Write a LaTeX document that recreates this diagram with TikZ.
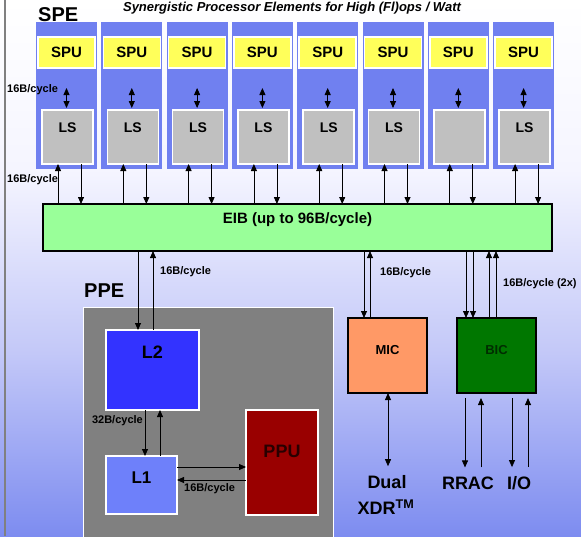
\documentclass[tikz,border=0pt]{standalone}
\usepackage{fontspec}
\setmainfont{Liberation Sans}
\usetikzlibrary{arrows.meta,calc}
\definecolor{speblue}{RGB}{112,128,240}
\definecolor{spuyellow}{RGB}{255,255,90}
\definecolor{lsgray}{RGB}{192,192,192}
\definecolor{eibgreen}{RGB}{153,255,153}
\definecolor{ppegray}{RGB}{128,128,128}
\definecolor{ltwotone}{RGB}{51,51,255}
\definecolor{lonetone}{RGB}{110,128,250}
\definecolor{ppured}{RGB}{153,0,0}
\definecolor{micorange}{RGB}{255,153,102}
\definecolor{bicgreen}{RGB}{0,119,0}
\definecolor{bgblue}{RGB}{125,140,240}
\definecolor{bgpale}{RGB}{245,245,255}
\definecolor{bgmid}{RGB}{195,200,248}
\definecolor{bicdark}{RGB}{0,45,0}
\definecolor{ppudark}{RGB}{40,0,0}
\newcommand{\fsz}[1]{\fontsize{#1}{#1}\selectfont}
\begin{document}
\begin{tikzpicture}[x=1pt,y=-1pt,font=\bfseries,
  arr/.style={-{Triangle[length=7pt,width=6pt]},line width=0.8pt},
  dbl/.style={{Triangle[length=7pt,width=6pt]}-{Triangle[length=7pt,width=6pt]},line width=0.8pt},
  blk/.style={inner sep=0pt,outer sep=0pt},
  whitebox/.style={blk,draw=white,line width=1.6pt},
  blackbox/.style={blk,draw=black,line width=2pt},
  rate/.style={font=\bfseries\fsz{11},inner sep=0pt},
  big/.style={font=\bfseries\fsz{20},inner sep=0pt},
  ext/.style={font=\bfseries\fsz{18},inner sep=0pt}
]
\useasboundingbox (0,0) rectangle (581,536);
% background
\shade[top color=white,bottom color=bgpale] (0,0) rectangle (581,170);
\shade[top color=bgpale,bottom color=bgblue,middle color=bgmid] (0,170) rectangle (581,536);
\draw[gray,line width=1.2pt] (5,0) -- (5,536);
% title
\node[font=\bfseries\itshape\fsz{13},anchor=base,inner sep=0pt] (title) at (292,11) {Synergistic Processor Elements for High (Fl)ops / Watt};
\node[big,anchor=west] (spelabel) at (38,15) {SPE};
% EIB
\node[blackbox,fill=eibgreen,minimum width=509pt,minimum height=47pt] (eib) at (297.5,227.5) {};
\node[font=\bfseries\fsz{15},inner sep=0pt] (eibtext) at (297.5,220) {EIB (up to 96B/cycle)};
% SPE columns
\foreach \i in {0,...,7}{
  \pgfmathsetmacro\L{36+65.3*\i}
  \node[blk,fill=speblue,minimum width=61pt,minimum height=147pt] (col\i) at (\L+30.5,95.5) {};
  \node[whitebox,fill=spuyellow,minimum width=57pt,minimum height=31pt,font=\bfseries\fsz{15}] (spu\i) at (\L+30.5,52.5) {SPU};
  \node[whitebox,fill=lsgray,minimum width=51pt,minimum height=54pt] (ls\i) at (\L+31.5,137) {};
  \draw[dbl] ([yshift=-20pt]spu\i.south) -- ([yshift=2pt]spu\i.south |- ls\i.north);
  \draw[arr] ([xshift=-9.5pt]ls\i.south |- eib.north) -- ([xshift=-9.5pt]ls\i.south);
  \draw[arr] ([xshift=13.5pt]ls\i.south) -- ([xshift=13.5pt]ls\i.south |- eib.north);
}
\foreach \i in {0,1,2,3,4,5,7}{
  \node[font=\bfseries\fsz{14},inner sep=0pt] (lstext\i) at ([yshift=-18pt]ls\i.north) {LS};
}
\node[rate,anchor=west] (rateA) at (7,90) {16B/cycle};
\node[rate,anchor=west] (rateB) at (7,180) {16B/cycle};
% PPE
\node[big,anchor=west] (ppelabel) at (84,291) {PPE};
\node[blk,fill=ppegray,draw=white,line width=1pt,minimum width=250pt,minimum height=240pt] (ppe) at (208,427) {};
\node[whitebox,fill=ltwotone,minimum width=93pt,minimum height=80pt] (l2) at (152.5,370) {};
\node[font=\bfseries\fsz{18},inner sep=0pt] (l2text) at ([yshift=-22pt]l2.north) {L2};
\node[whitebox,fill=lonetone,minimum width=71pt,minimum height=58pt] (l1) at (141.5,485) {};
\node[font=\bfseries\fsz{17},inner sep=0pt] (l1text) at ([yshift=-22pt]l1.north) {L1};
\node[whitebox,fill=ppured,minimum width=72pt,minimum height=105pt] (ppu) at (282,462.5) {};
\node[font=\bfseries\fsz{18},inner sep=0pt,text=ppudark] (pputext) at ([yshift=-41pt]ppu.north) {PPU};
% EIB <-> L2
\draw[arr] ([xshift=-14.5pt]l2.north |- eib.south) -- ([xshift=-14.5pt]l2.north);
\draw[arr] ([xshift=0.5pt]l2.north) -- ([xshift=0.5pt]l2.north |- eib.south);
\node[rate,anchor=west] (rateC) at (160,272) {16B/cycle};
% L2 <-> L1
\draw[arr] ([xshift=-7.5pt]l2.south) -- ([xshift=-7.5pt]l2.south |- l1.north);
\draw[arr] ([xshift=7.5pt]l2.south |- l1.north) -- ([xshift=7.5pt]l2.south);
\node[rate,anchor=east] (rateD) at (143,421) {32B/cycle};
% L1 <-> PPU
\draw[arr] ([yshift=18pt]l1.east) -- ([yshift=18pt]l1.east -| ppu.west);
\draw[arr] ([yshift=5pt]l1.east -| ppu.west) -- ([yshift=5pt]l1.east);
\node[rate,anchor=west] (rateE) at (184,489) {16B/cycle};
% MIC
\node[blackbox,fill=micorange,minimum width=79pt,minimum height=75pt] (mic) at (387.5,355.5) {};
\node[font=\bfseries\fsz{13},inner sep=0pt] (mictext) at (387.5,350) {MIC};
\draw[arr] ([xshift=-23.5pt]mic.north |- eib.south) -- ([xshift=-23.5pt]mic.north);
\draw[arr] ([xshift=-17.5pt]mic.north) -- ([xshift=-17.5pt]mic.north |- eib.south);
\node[rate,anchor=west] (rateF) at (380,273) {16B/cycle};
% BIC
\node[blackbox,fill=bicgreen,minimum width=79pt,minimum height=75pt] (bic) at (496.5,355.5) {};
\node[font=\bfseries\fsz{13},inner sep=0pt,text=bicdark] (bictext) at (496.5,350) {BIC};
\draw[arr] ([xshift=-30.5pt]bic.north |- eib.south) -- ([xshift=-30.5pt]bic.north);
\draw[arr] ([xshift=-23.5pt]bic.north |- eib.south) -- ([xshift=-23.5pt]bic.north);
\draw[arr] ([xshift=-7.5pt]bic.north) -- ([xshift=-7.5pt]bic.north |- eib.south);
\draw[arr] ([xshift=-0.5pt]bic.north) -- ([xshift=-0.5pt]bic.north |- eib.south);
\node[rate,anchor=west] (rateG) at (503,284) {16B/cycle (2x)};
% external
\node[ext] (dual) at (387,482) {Dual};
\node[ext] (xdr) at (386,507) {XDR\textsuperscript{TM}};
\node[ext] (rrac) at (468,483) {RRAC};
\node[ext] (io) at (519,483) {I/O};
\draw[dbl] ([xshift=0.5pt]mic.south) -- ([xshift=0.5pt,yshift=9pt]mic.south |- dual.north);
\draw[arr] ([xshift=-31.5pt,yshift=-5pt]bic.south) -- ([xshift=-31.5pt,yshift=9pt]bic.south |- rrac.north);
\draw[arr] ([xshift=-15.5pt,yshift=9pt]bic.south |- rrac.north) -- ([xshift=-15.5pt,yshift=-5pt]bic.south);
\draw[arr] ([xshift=15.5pt,yshift=-5pt]bic.south) -- ([xshift=15.5pt,yshift=9pt]bic.south |- io.north);
\draw[arr] ([xshift=31.5pt,yshift=9pt]bic.south |- io.north) -- ([xshift=31.5pt,yshift=-5pt]bic.south);
\end{tikzpicture}
\end{document}
